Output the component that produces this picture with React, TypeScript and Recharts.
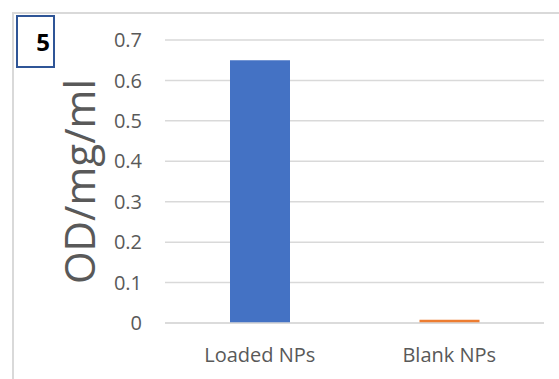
import React from 'react';
import { BarChart, Bar, XAxis, YAxis, CartesianGrid, Cell } from 'recharts';

const categories = ['Loaded NPs', 'Blank NPs'];
const odValues = [0.65, 0.008];
const barColors = ['#4472C4', '#ED7D31'];
const yTicks = [0, 0.1, 0.2, 0.3, 0.4, 0.5, 0.6, 0.7];

const chartData = categories.map((name, i) => ({ name, value: odValues[i] }));

const FONT = '"Open Sans", "Liberation Sans", sans-serif';

function YLabel(props: any) {
  const vb = props.viewBox || {};
  const cx = 78;
  const cy = vb.y + vb.height / 2;
  return (
    <text
      x={cx}
      y={cy}
      transform={`rotate(-90 ${cx} ${cy})`}
      textAnchor="middle"
      dominantBaseline="central"
      fill="#595959"
      fontSize={42}
      fontFamily={FONT}
    >
      OD/mg/ml
    </text>
  );
}

export default function App() {
  return (
    <div style={{ position: 'absolute', left: 0, top: 0, width: 559, height: 379, background: '#fff', overflow: 'hidden' }}>
      <div
        style={{
          position: 'absolute',
          left: 12,
          top: 12,
          width: 560,
          height: 380,
          borderTop: '2px solid #d9d9d9',
          borderLeft: '2px solid #d9d9d9',
        }}
      />
      <BarChart
        width={559}
        height={379}
        data={chartData}
        margin={{ top: 40, right: 15, bottom: 0, left: 0 }}
      >
        <CartesianGrid vertical={false} stroke="#d9d9d9" strokeWidth={1.5} />
        <XAxis
          dataKey="name"
          height={56}
          tickLine={false}
          tickSize={0}
          tickMargin={25}
          axisLine={{ stroke: '#d9d9d9', strokeWidth: 1.5 }}
          tick={{ fill: '#595959', fontSize: 20, fontFamily: FONT }}
        />
        <YAxis
          width={165}
          domain={[0, 0.7]}
          ticks={yTicks}
          interval={0}
          tickLine={false}
          axisLine={false}
          tickSize={0}
          tickMargin={23}
          tick={{ fill: '#595959', fontSize: 20, fontFamily: FONT }}
          label={<YLabel />}
        />
        <Bar dataKey="value" barSize={60} isAnimationActive={false}>
          {chartData.map((d, i) => (
            <Cell key={d.name} fill={barColors[i]} />
          ))}
        </Bar>
      </BarChart>
      <div
        style={{
          position: 'absolute',
          left: 16,
          top: 15,
          width: 35,
          height: 49,
          border: '2px solid #2F5597',
          fontFamily: FONT,
          fontWeight: 'bold',
          fontSize: 24,
          color: '#000',
          textAlign: 'right',
          lineHeight: '49px',
          paddingRight: 0,
          boxSizing: 'content-box',
        }}
      >
        <span style={{ marginRight: 3 }}>5</span>
      </div>
    </div>
  );
}
